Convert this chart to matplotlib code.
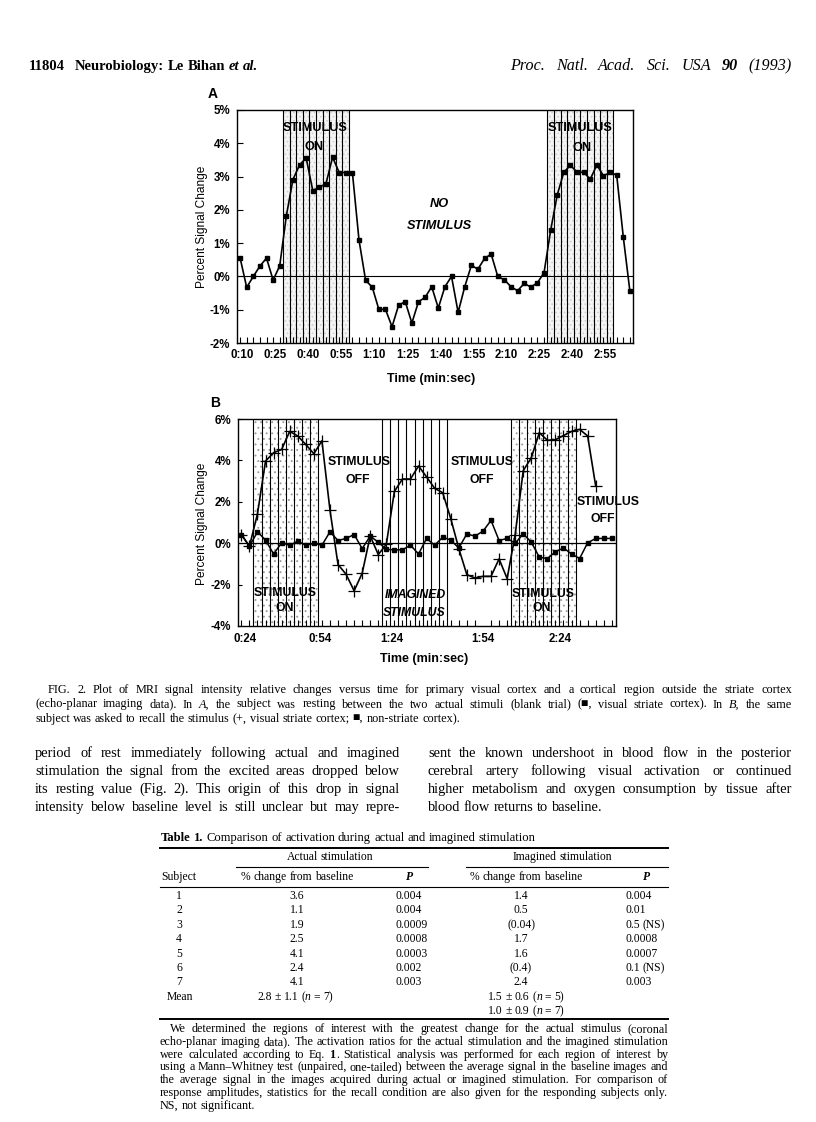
import re
import matplotlib
matplotlib.use('Agg')
import matplotlib.pyplot as plt
import numpy as np

# ------------------------------------------------------------------ data
# Panel A: % signal change, visual striate cortex (blank trial)
A_values = [0.56, -0.33, 0.0, 0.31, 0.55, -0.11, 0.32, 1.82, 2.91, 3.35,
            3.56, 2.58, 2.68, 2.79, 3.58, 3.12, 3.12, 3.12, 1.09, -0.12,
            -0.32, -0.99, -0.99, -1.51, -0.86, -0.76, -1.40, -0.76, -0.63, -0.31,
            -0.95, -0.31, 0.0, -1.08, -0.31, 0.33, 0.22, 0.54, 0.67, 0.0,
            -0.10, -0.31, -0.43, -0.21, -0.32, -0.19, 0.11, 1.38, 2.45, 3.13,
            3.34, 3.13, 3.13, 2.92, 3.35, 3.02, 3.13, 3.04, 1.18, -0.45]
A_t0, A_dt = 9, 3                      # first sample (s), sampling step (s)
A_blocks = [(28.5, 58.5), (148.5, 178.5)]
A_xticks = [10, 25, 40, 55, 70, 85, 100, 115, 130, 145, 160, 175]
A_xticklabels = ['0:10', '0:25', '0:40', '0:55', '1:10', '1:25', '1:40',
                 '1:55', '2:10', '2:25', '2:40', '2:55']
A_yticks = [-2, -1, 0, 1, 2, 3, 4, 5]

# Panel B: recall experiment (index = image number)
B_plus = [0.42, -0.15, 1.42, 3.97, 4.37, 4.53, 5.40, 5.18, 4.77, 4.32,
          4.95, 1.60, -1.03, -1.50, -2.30, -1.45, 0.35, -0.55, -0.05, 2.50,
          3.10, 3.10, 3.73, 3.20, 2.65, 2.44, 1.19, -0.26, -1.52, -1.68,
          -1.60, -1.60, -0.76, -1.71, 0.42, 3.50, 4.13, 5.34, 4.97, 5.00,
          5.20, 5.40, 5.50, 5.18, 2.76]
B_square = [0.42, -0.15, 0.55, 0.15, -0.52, 0.02, -0.10, 0.10, -0.10, 0.0,
            -0.10, 0.55, 0.13, 0.23, 0.42, -0.26, 0.34, 0.05, -0.30, -0.32,
            -0.32, -0.10, -0.52, 0.23, -0.10, 0.29, 0.15, -0.23, 0.45, 0.34,
            0.58, 1.10, 0.13, 0.23, 0.0, 0.45, 0.05, -0.68, -0.74, -0.42,
            -0.23, -0.52, -0.74, 0.02, 0.23, 0.23, 0.23]
B_blocks = [(1.5, 9.5, True), (17.5, 25.5, False), (33.5, 41.5, True)]
B_xtick_pos = [0.4, 9.8, 18.7, 30.0, 39.6]
B_xticklabels = ['0:24', '0:54', '1:24', '1:54', '2:24']
B_yticks = [-4, -2, 0, 2, 4, 6]

# Table 1
T_subjects = ['1', '2', '3', '4', '5', '6', '7']
T_actual = ['3.6', '1.1', '1.9', '2.5', '4.1', '2.4', '4.1']
T_actual_p = ['0.004', '0.004', '0.0009', '0.0008', '0.0003', '0.002', '0.003']
T_imag = ['1.4', '0.5', '(0.04)', '1.7', '1.6', '(0.4)', '2.4']
T_imag_p = ['0.004', '0.01', '0.5 (NS)', '0.0008', '0.0007', '0.1 (NS)', '0.003']
T_mean_actual = '2.8 ± 1.1 (_n_ = 7)'
T_mean_imag = ['1.5 ± 0.6 (_n_ = 5)', '1.0 ± 0.9 (_n_ = 7)']

# ------------------------------------------------------------------ figure
W, H = 816, 1122
fig = plt.figure(figsize=(W / 100, H / 100), dpi=100)
fig.patch.set_facecolor('white')
renderer = fig.canvas.get_renderer()
plt.rcParams['hatch.linewidth'] = 0.6

SERIF = ['Liberation Serif', 'DejaVu Serif']
SANS = ['Liberation Sans', 'DejaVu Sans']


def fx(x):
    return x / W


def fy(y):
    return 1 - y / H


_cache = {}


def tw(s, size, st):
    key = (s, size, tuple(sorted(st.items())))
    if key not in _cache:
        t = fig.text(0, 0, s, fontsize=size, family=SERIF, **st)
        _cache[key] = t.get_window_extent(renderer).width
        t.remove()
    return _cache[key]


def classify(part):
    if len(part) > 2 and part[0] == '_' and part[-1] == '_':
        return part[1:-1], dict(style='italic')
    if len(part) > 2 and part[0] == '*' and part[-1] == '*':
        return part[1:-1], dict(weight='bold')
    if len(part) > 2 and part[0] == '~' and part[-1] == '~':
        return part[1:-1], dict(weight='bold', style='italic')
    return part, {}


def line_words(line, base):
    words = [[]]
    for part in re.split(r'(_[^_]+_|\*[^*]+\*|~[^~]+~)', line):
        if not part:
            continue
        text, st = classify(part)
        st = {**base, **st}
        for j, p in enumerate(text.split(' ')):
            if j > 0:
                words.append([])
            if p:
                words[-1].append((p, st))
    return [w for w in words if w]


def natural_width(line, size, base):
    wsegs = line_words(line, base)
    sp = tw('a a', size, base) - tw('aa', size, base)
    return sum(tw(s, size, st) for w in wsegs for s, st in w) + sp * (len(wsegs) - 1)


def draw_line(x0, y, line, size, x1=None, align='left', base=None):
    base = base or {}
    wsegs = line_words(line, base)
    widths = [sum(tw(s, size, st) for s, st in segs) for segs in wsegs]
    sp = tw('a a', size, base) - tw('aa', size, base)
    if x1 is not None and len(wsegs) > 1:
        gap = (x1 - x0 - sum(widths)) / (len(wsegs) - 1)
        if gap < 0.55 * sp:
            return draw_line(x0, y, line, size * 0.97, x1, align, base)
    else:
        gap = sp
    total = sum(widths) + gap * (len(wsegs) - 1)
    if align == 'center':
        cx = x0 - total / 2
    elif align == 'right':
        cx = x0 - total
    else:
        cx = x0
    for segs, w in zip(wsegs, widths):
        for s, st in segs:
            fig.text(fx(cx), fy(y), s, fontsize=size, family=SERIF,
                     va='baseline', ha='left', **st)
            cx += tw(s, size, st)
        cx += gap


def draw_fit(x0, x1, y, line, size, base=None):
    base = base or {}
    nat = natural_width(line, size, base)
    draw_line(x0, y, line, size * (x1 - x0) / nat, base=base)


def hrule(x0, x1, y, lw):
    fig.add_artist(plt.Line2D([fx(x0), fx(x1)], [fy(y), fy(y)],
                              transform=fig.transFigure, color='k', lw=lw))


def style_ticks(ax, size):
    for lab in ax.get_xticklabels() + ax.get_yticklabels():
        lab.set_family(SANS)
        lab.set_fontweight('bold')
        lab.set_fontsize(size)


def atext(x, y, s, size=9.2, italic=False):
    fig.text(fx(x), fy(y), s, fontsize=size, family=SANS, weight='bold',
             style='italic' if italic else 'normal', ha='center', va='center')


# ------------------------------------------------------------------ header
draw_line(29, 70, '11804', 10.5, base=dict(weight='bold'))
draw_fit(75, 258, 70, 'Neurobiology: Le Bihan _et al._', 10.5, base=dict(weight='bold'))
draw_line(510, 70, 'Proc. Natl. Acad. Sci. USA *90* (1993)', 11.6, x1=792,
          base=dict(style='italic'))

# ------------------------------------------------------------------ panel A
axA = fig.add_axes([fx(237), fy(343), (633 - 237) / W, (343 - 110) / H])
tA = A_t0 + A_dt * np.arange(len(A_values))
for a, b in A_blocks:
    axA.axvspan(a, b, facecolor='#f4f4f4', edgecolor='#cccccc', hatch='....',
                lw=0, zorder=0)
    for xv in np.arange(a, b + 0.01, A_dt):
        axA.axvline(xv, color='k', lw=0.8, zorder=1)
axA.axhline(0, color='k', lw=0.8, zorder=1)
axA.plot(tA, A_values, color='k', lw=1.2, marker='s', ms=2.4, zorder=3)
axA.set_xlim(7.6, 187.4)
axA.set_ylim(-2, 5)
axA.set_xticks(A_xticks)
axA.set_xticklabels(A_xticklabels)
axA.set_xticks(tA, minor=True)
axA.tick_params(axis='x', which='major', length=0, pad=4)
axA.tick_params(axis='x', which='minor', length=4, direction='in', width=0.8)
axA.set_yticks(A_yticks)
axA.set_yticklabels([f'{v}%' for v in A_yticks])
axA.tick_params(axis='y', length=4, direction='in', width=0.8, pad=5)
style_ticks(axA, 8.3)
for sp_ in axA.spines.values():
    sp_.set_linewidth(1.0)

fig.text(fx(213), fy(94), 'A', fontsize=10, family=SANS, weight='bold',
         ha='center', va='center')
fig.text(fx(202), fy(227), 'Percent Signal Change', fontsize=8.6, family=SANS,
         rotation=90, ha='center', va='center')
fig.text(fx(431), fy(379), 'Time (min:sec)', fontsize=9, family=SANS,
         weight='bold', ha='center', va='center')
atext(315, 128, 'STIMULUS')
atext(314, 147, 'ON')
atext(439, 204, 'NO', italic=True)
atext(439, 226, 'STIMULUS', italic=True)
atext(580, 128, 'STIMULUS')
atext(582, 148, 'ON')

# ------------------------------------------------------------------ panel B
axB = fig.add_axes([fx(238), fy(626), (616 - 238) / W, (626 - 419) / H])
iB_sq = np.arange(len(B_square))
iB_pl = np.arange(len(B_plus))
for a, b, stip in B_blocks:
    if stip:
        axB.axvspan(a, b, facecolor='white', edgecolor='#999999', hatch='...',
                    lw=0, zorder=0)
    for xv in np.arange(a, b + 0.01, 1):
        axB.axvline(xv, color='k', lw=0.8, zorder=1)
axB.axhline(0, color='k', lw=0.9, zorder=1)
axB.plot(iB_sq, B_square, color='k', lw=1.1, marker='s', ms=2.4, zorder=3)
axB.plot(iB_pl, B_plus, color='k', lw=1.2, marker='+', ms=9, mew=0.9, zorder=3)
axB.set_xlim(-0.42, 46.52)
axB.set_ylim(-4, 6)
axB.set_xticks(B_xtick_pos)
axB.set_xticklabels(B_xticklabels)
axB.set_xticks(iB_sq, minor=True)
axB.tick_params(axis='x', which='major', length=0, pad=5)
axB.tick_params(axis='x', which='minor', length=4, direction='in', width=0.8)
axB.set_yticks(B_yticks)
axB.set_yticklabels([f'{v}%' for v in B_yticks])
axB.tick_params(axis='y', length=3, direction='in', width=0.8, pad=5)
style_ticks(axB, 8.3)
for sp_ in axB.spines.values():
    sp_.set_linewidth(1.0)

fig.text(fx(215), fy(403), 'B', fontsize=10, family=SANS, weight='bold',
         ha='center', va='center')
fig.text(fx(202), fy(524), 'Percent Signal Change', fontsize=8.6, family=SANS,
         rotation=90, ha='center', va='center')
fig.text(fx(424), fy(659), 'Time (min:sec)', fontsize=9, family=SANS,
         weight='bold', ha='center', va='center')
atext(359, 462, 'STIMULUS', 8.8)
atext(358, 480, 'OFF', 8.8)
atext(285, 593, 'STIMULUS', 8.8)
atext(285, 608, 'ON', 8.8)
atext(415, 595, 'IMAGINED', 8.8, italic=True)
atext(414, 613, 'STIMULUS', 8.8, italic=True)
atext(482, 462, 'STIMULUS', 8.8)
atext(482, 480, 'OFF', 8.8)
atext(543, 594, 'STIMULUS', 8.8)
atext(542, 608, 'ON', 8.8)
atext(608, 502, 'STIMULUS', 8.8)
atext(603, 519, 'OFF', 8.8)

# ------------------------------------------------------------------ caption
cap = 8.8
draw_line(48, 693, 'FIG. 2.  Plot of MRI signal intensity relative changes versus time for '
          'primary visual cortex and a cortical region outside the striate cortex', cap, x1=792)
draw_line(35, 707.5, '(echo-planar imaging data). In _A,_ the subject was resting between the '
          'two actual stimuli (blank trial) (■, visual striate cortex). In _B,_ the same', cap, x1=792)
draw_line(35, 722, 'subject was asked to recall the stimulus (+, visual striate cortex; '
          '■, non-striate cortex).', cap)

# ------------------------------------------------------------------ body text
body = 10.4
left_col = ['period of rest immediately following actual and imagined',
            'stimulation the signal from the excited areas dropped below',
            'its resting value (Fig. 2). This origin of this drop in signal',
            'intensity below baseline level is still unclear but may repre-']
right_col = ['sent the known undershoot in blood flow in the posterior',
             'cerebral artery following visual activation or continued',
             'higher metabolism and oxygen consumption by tissue after',
             'blood flow returns to baseline.']
for k, ln in enumerate(left_col):
    draw_line(35, 757 + 18 * k, ln, body, x1=400)
for k, ln in enumerate(right_col):
    draw_line(428, 757 + 18 * k, ln, body, x1=792 if k < 3 else None)

# ------------------------------------------------------------------ table
tsz = 8.4
draw_fit(161, 535, 841, '*Table 1.*  Comparison of activation during actual and imagined stimulation', tsz)
hrule(160, 668, 848, 1.4)
draw_line(330, 860, 'Actual stimulation', tsz, align='center')
draw_line(562, 860, 'Imagined stimulation', tsz, align='center')
hrule(236, 428, 867, 0.8)
hrule(466, 668, 867, 0.8)
draw_line(161, 880, 'Subject', tsz)
draw_line(297, 880, '% change from baseline', tsz, align='center')
draw_line(410, 880, '~P~', tsz, align='center')
draw_line(526, 880, '% change from baseline', tsz, align='center')
draw_line(647, 880, '~P~', tsz, align='center')
hrule(160, 668, 887, 0.8)
for k in range(len(T_subjects)):
    y = 899 + 14.4 * k
    draw_line(179, y, T_subjects[k], tsz, align='center')
    draw_line(297, y, T_actual[k], tsz, align='center')
    draw_line(396, y, T_actual_p[k], tsz)
    draw_line(521, y, T_imag[k], tsz, align='center')
    draw_line(625, y, T_imag_p[k], tsz)
ym = 899 + 14.4 * 7
draw_line(167, ym, 'Mean', tsz)
draw_line(295, ym, T_mean_actual, tsz, align='center')
draw_line(526, ym, T_mean_imag[0], tsz, align='center')
draw_line(526, ym + 14.4, T_mean_imag[1], tsz, align='center')
hrule(160, 668, 1019, 1.4)

foot = ['We determined the regions of interest with the greatest change for the actual stimulus (coronal',
        'echo-planar imaging data). The activation ratios for the actual stimulation and the imagined stimulation',
        'were calculated according to Eq. *1*. Statistical analysis was performed for each region of interest by',
        'using a Mann–Whitney test (unpaired, one-tailed) between the average signal in the baseline images and',
        'the average signal in the images acquired during actual or imagined stimulation. For comparison of',
        'response amplitudes, statistics for the recall condition are also given for the responding subjects only.',
        'NS, not significant.']
for k, ln in enumerate(foot):
    x0 = 170 if k == 0 else 160
    draw_line(x0, 1032 + 12.8 * k, ln, 8.7, x1=668 if k < len(foot) - 1 else None)

fig.savefig('out.png', dpi=100, facecolor='white')
